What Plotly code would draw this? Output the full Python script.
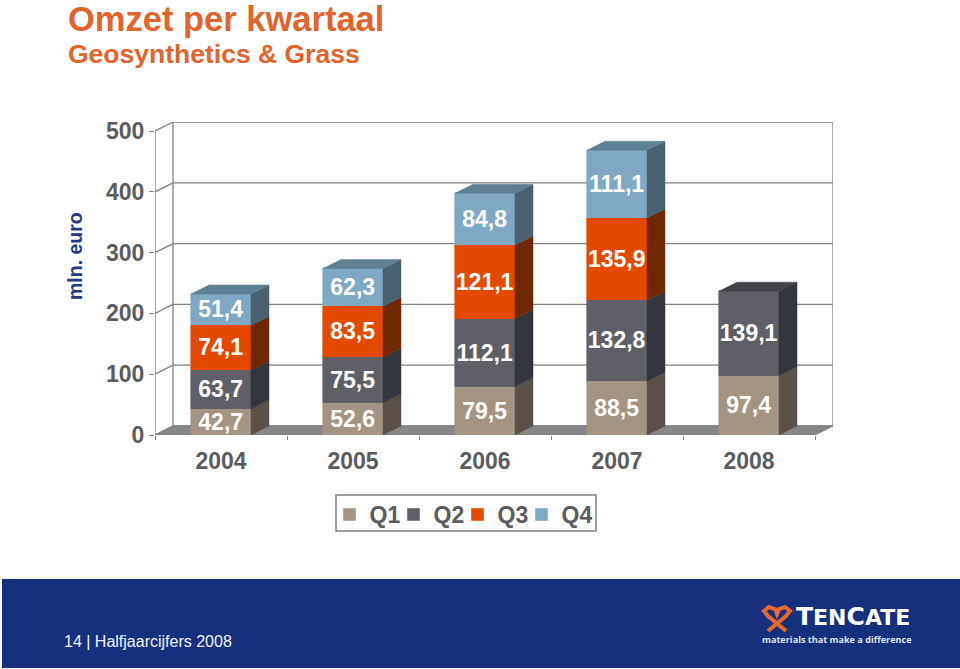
import plotly.graph_objects as go

years = ["2004", "2005", "2006", "2007", "2008"]
q1 = [42.7, 52.6, 79.5, 88.5, 97.4]
q2 = [63.7, 75.5, 112.1, 132.8, 139.1]
q3 = [74.1, 83.5, 121.1, 135.9, None]
q4 = [51.4, 62.3, 84.8, 111.1, None]
series_names = ["Q1", "Q2", "Q3", "Q4"]
series_values = [q1, q2, q3, q4]
front_colors = ["#a39484", "#5f5f68", "#e34a00", "#7fa9c2"]
side_colors = ["#5b5048", "#33363d", "#702800", "#4b6170"]
top_colors = ["#7a6e62", "#424349", "#a03800", "#5f7f92"]
y_ticks = [0, 100, 200, 300, 400, 500]

GREY = "#5b5b60"
LINE = "#808080"
PXX, PXY = 132.0, 0.608
DX, DY = 18 / PXX, 9 / PXY
BAR_W = 60 / PXX
centers = [i + 0.5 for i in range(len(years))]

fig = go.Figure()

for name, vals, col in zip(series_names, series_values, front_colors):
    fig.add_bar(
        x=centers, y=vals, name=name, width=BAR_W,
        marker=dict(color=col, line=dict(color=col, width=0.6)),
        text=[None if v is None else f"{v:.1f}".replace(".", ",") for v in vals],
        textposition="inside", insidetextanchor="middle", textangle=0,
        constraintext="none", cliponaxis=False,
        textfont=dict(family="Liberation Sans", size=23, color="white", weight="bold"),
        hoverinfo="skip",
        legendwidth=45 if name == series_names[-1] else None,
    )

base = [0.0] * len(years)
for k, vals in enumerate(series_values):
    sx, sy, tx, ty = [], [], [], []
    for i, v in enumerate(vals):
        if v is None:
            continue
        r = centers[i] + BAR_W / 2
        l = centers[i] - BAR_W / 2
        b, t = base[i], base[i] + v
        sx += [r, r + DX, r + DX, r, r, None]
        sy += [b, b + DY, t + DY, t, b, None]
        is_top = k == len(series_values) - 1 or series_values[k + 1][i] is None
        if is_top:
            tx += [l, l + DX, r + DX, r, l, None]
            ty += [t, t + DY, t + DY, t, t, None]
        base[i] = t
    fig.add_scatter(x=sx, y=sy, mode="lines", fill="toself", fillcolor=side_colors[k],
                    line=dict(color=side_colors[k], width=0.5), showlegend=False,
                    hoverinfo="skip", cliponaxis=False)
    if tx:
        fig.add_scatter(x=tx, y=ty, mode="lines", fill="toself", fillcolor=top_colors[k],
                        line=dict(color=top_colors[k], width=0.5), showlegend=False,
                        hoverinfo="skip", cliponaxis=False)

shapes = []
def seg(x0, y0, x1, y1, w=1.3):
    shapes.append(dict(type="line", xref="x", yref="y", x0=x0, y0=y0, x1=x1, y1=y1,
                       layer="below", line=dict(color=LINE, width=w)))

n = len(years)
shapes.append(dict(type="path", xref="x", yref="y", layer="below",
                   path=f"M0,0 L{n},0 L{n+DX},{DY} L{DX},{DY} Z",
                   fillcolor="#878787", line=dict(color=LINE, width=1)))
top = y_ticks[-1]
for v in y_ticks:
    seg(DX, v + DY, n + DX, v + DY)
    seg(0, v, DX, v + DY)
seg(DX, DY, DX, top + DY)
seg(n + DX, DY, n + DX, top + DY)
seg(0, 0, 0, top)
seg(0, 0, n, 0)

layout_ann = [
    dict(text="<b>Omzet per kwartaal</b>", x=66, y=19, size=34.5, color="#e0642b", anchor="left"),
    dict(text="<b>Geosynthetics &amp; Grass</b>", x=66, y=54, size=26.5, color="#e0642b", anchor="left"),
    dict(text="14 | Halfjaarcijfers 2008", x=62, y=641, size=16, color="#f2f4fa", anchor="left"),
    dict(text="<b><span style='font-size:25px'>T</span>EN<span style='font-size:25px'>C</span>ATE</b>",
         x=794, y=616, size=22, color="white", anchor="left", family="DejaVu Sans"),
    dict(text="<b>materials that make a difference</b>", x=760, y=639, size=9.1, color="#dfe3ee", anchor="left", family="Open Sans"),
]
W, H = 960, 669
L, R, T, B = 155, 127, 122, 234
PW, PH = W - L - R, H - T - B

annotations = []
for a in layout_ann:
    annotations.append(dict(text=a["text"], xref="paper", yref="paper", x=0, y=0, showarrow=False,
                            xanchor=a["anchor"], yanchor="middle",
                            xshift=a["x"] - L, yshift=(H - B) - a["y"],
                            font=dict(family=a.get("family", "Liberation Sans"), size=a["size"], color=a["color"])))
annotations.append(dict(text="<b>mln. euro</b>", xref="paper", yref="paper", x=0, y=0, showarrow=False,
                        textangle=-90, xanchor="center", yanchor="middle",
                        xshift=75 - L, yshift=(H - B) - 256,
                        font=dict(family="Liberation Sans", size=19.5, color="#1f3a80")))

def fx(p): return (p - L) / PW
def fy(p): return ((H - B) - p) / PH
shapes.append(dict(type="rect", xref="paper", yref="paper", x0=fx(2), x1=fx(960), y0=fy(579), y1=fy(668),
                   fillcolor="#17307e", line=dict(width=0), layer="below"))
shapes.append(dict(type="rect", xref="paper", yref="paper", x0=fx(336), x1=fx(596), y0=fy(495), y1=fy(531),
                   fillcolor="white", line=dict(color=LINE, width=1.5), layer="below"))
ribbon = [(768, 631), (786, 616), (790, 611), (785, 607), (779, 609), (777, 614),
          (775, 609), (769, 607), (764, 611), (768, 616), (786, 631)]
path = "M" + " L".join(f"{fx(px):.4f},{fy(py):.4f}" for px, py in ribbon)
shapes.append(dict(type="path", xref="paper", yref="paper", path=path,
                   line=dict(color="#e8672c", width=4), layer="above"))

fig.update_layout(
    width=W, height=H, barmode="stack", bargap=0,
    margin=dict(l=L, r=R, t=T, b=B, pad=0, autoexpand=False),
    paper_bgcolor="white", plot_bgcolor="white",
    font=dict(family="Liberation Sans", color=GREY),
    shapes=shapes, annotations=annotations,
    xaxis=dict(range=[0, n + DX], tickvals=centers, ticktext=years, ticks="", showgrid=False,
               zeroline=False, showline=False, ticklabelstandoff=10,
               minor=dict(tickvals=list(range(n + 1)), ticks="outside", ticklen=4, tickcolor=LINE, tickwidth=1.3, showgrid=False),
               tickfont=dict(size=23, color=GREY, weight="bold", family="Liberation Sans")),
    yaxis=dict(range=[0, top + DY], tickvals=y_ticks, ticks="outside", ticklen=5, tickwidth=1.3, tickcolor=LINE,
               showgrid=False, zeroline=False, showline=False, ticklabelstandoff=0,
               tickfont=dict(size=23, color=GREY, weight="bold", family="Liberation Sans")),
    legend=dict(orientation="h", x=fx(329.5), y=fy(493), xanchor="left", yanchor="top",
                borderwidth=0, bgcolor="rgba(0,0,0,0)", traceorder="normal",
                entrywidth=19, entrywidthmode="pixels", itemclick=False, itemdoubleclick=False,
                font=dict(size=23, color=GREY, weight="bold", family="Liberation Sans")),
    showlegend=True,
)

fig.write_html("out.html", config=dict(displayModeBar=False),
               post_script="document.body.style.margin='0';document.documentElement.style.overflow='hidden';")
